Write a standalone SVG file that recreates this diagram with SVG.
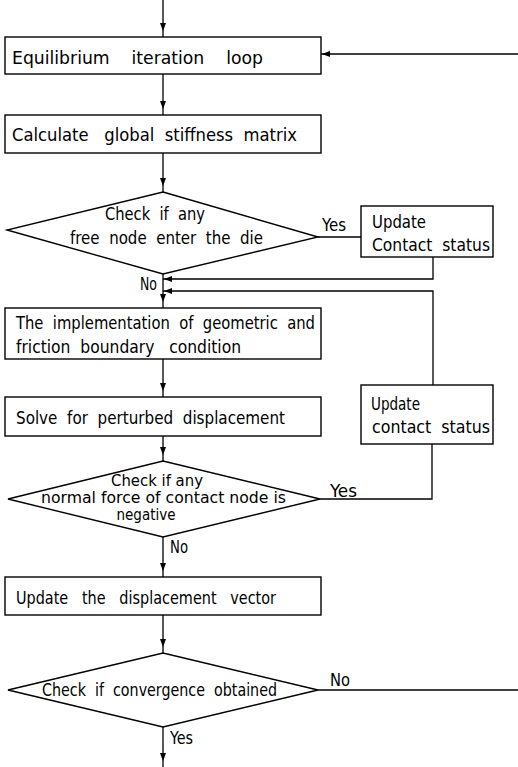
<svg xmlns="http://www.w3.org/2000/svg" width="518" height="767" viewBox="0 0 518 767">
<style>
.b{fill:#fff;stroke:#000;stroke-width:1.4}
.c{fill:none;stroke:#000;stroke-width:1.3}
text{font-family:"DejaVu Sans Condensed","DejaVu Sans","Liberation Sans",sans-serif;font-size:17px;fill:#000;white-space:pre}
.s{font-size:15px}
</style>
<defs>
<marker id="arr" markerUnits="userSpaceOnUse" markerWidth="16" markerHeight="8" refX="14" refY="3" orient="auto">
<path d="M0,0 L8,3 L0,6 z" fill="#000"/>
</marker>
<marker id="arrh" markerUnits="userSpaceOnUse" markerWidth="16" markerHeight="8" refX="9" refY="3" orient="auto">
<path d="M0,0 L8,3 L0,6 z" fill="#000"/>
</marker>
</defs>
<g id="connectors">
<path class="c" d="M163,0 V37" marker-end="url(#arr)"/>
<path class="c" d="M518,54 H321" marker-end="url(#arrh)"/>
<path class="c" d="M163,74 V115" marker-end="url(#arr)"/>
<path class="c" d="M163,153 V192" marker-end="url(#arr)"/>
<path class="c" d="M318,237 H361"/>
<path class="c" d="M433,257 V279 H163" marker-end="url(#arrh)"/>
<path class="c" d="M433,385 V291 H163" marker-end="url(#arrh)"/>
<path class="c" d="M163,274 V308" marker-end="url(#arr)"/>
<path class="c" d="M163,359 V397" marker-end="url(#arr)"/>
<path class="c" d="M163,436 V461" marker-end="url(#arr)"/>
<path class="c" d="M320,499 H432 V444"/>
<path class="c" d="M163,537 V577" marker-end="url(#arr)"/>
<path class="c" d="M163,615 V653" marker-end="url(#arr)"/>
<path class="c" d="M318,690 H518"/>
<path class="c" d="M163,727 V767" marker-end="url(#arr)"/>
<text x="322" y="231" textLength="24" lengthAdjust="spacingAndGlyphs">Yes</text>
<text x="140" y="290" textLength="17" lengthAdjust="spacingAndGlyphs">No</text>
<text x="330" y="497" textLength="27" lengthAdjust="spacingAndGlyphs">Yes</text>
<text x="170" y="553" textLength="18" lengthAdjust="spacingAndGlyphs">No</text>
<text x="330" y="686" textLength="20" lengthAdjust="spacingAndGlyphs">No</text>
<text x="170" y="744" textLength="23" lengthAdjust="spacingAndGlyphs">Yes</text>
</g>
<g id="n1">
<rect class="b" x="5" y="37" width="316" height="37"/>
<text x="12" y="64" textLength="251" lengthAdjust="spacingAndGlyphs">Equilibrium    iteration    loop</text>
</g>
<g id="n2">
<rect class="b" x="5" y="115" width="316" height="38"/>
<text x="12" y="141" textLength="285" lengthAdjust="spacingAndGlyphs">Calculate   global  stiffness  matrix</text>
</g>
<g id="d1">
<polygon class="b" points="163,192 318,237 163,274 7,230"/>
<text x="105" y="220" textLength="100" lengthAdjust="spacingAndGlyphs">Check  if  any</text>
<text x="70" y="244" textLength="193" lengthAdjust="spacingAndGlyphs">free  node  enter  the  die</text>
</g>
<g id="u1">
<rect class="b" x="361" y="206" width="132" height="51"/>
<text x="372" y="228" textLength="54" lengthAdjust="spacingAndGlyphs">Update</text>
<text x="372" y="251" textLength="118" lengthAdjust="spacingAndGlyphs">Contact  status</text>
</g>
<g id="n3">
<rect class="b" x="5" y="308" width="316" height="51"/>
<text x="16" y="329" textLength="299" lengthAdjust="spacingAndGlyphs">The  implementation  of  geometric  and</text>
<text x="16" y="353" textLength="225" lengthAdjust="spacingAndGlyphs">friction  boundary   condition</text>
</g>
<g id="n4">
<rect class="b" x="5" y="397" width="316" height="39"/>
<text x="16" y="424" textLength="269" lengthAdjust="spacingAndGlyphs">Solve  for  perturbed  displacement</text>
</g>
<g id="u2">
<rect class="b" x="361" y="385" width="132" height="59"/>
<text x="371" y="410" textLength="49" lengthAdjust="spacingAndGlyphs">Update</text>
<text x="372" y="433" textLength="118" lengthAdjust="spacingAndGlyphs">contact  status</text>
</g>
<g id="d2">
<polygon class="b" points="163,461 320,499 163,537 8,499"/>
<text class="s" x="111" y="486" textLength="92" lengthAdjust="spacingAndGlyphs">Check if any</text>
<text class="s" x="41" y="503" textLength="245" lengthAdjust="spacingAndGlyphs">normal force of contact node is</text>
<text class="s" x="146" y="520" text-anchor="middle">negative</text>
</g>
<g id="n5">
<rect class="b" x="5" y="577" width="316" height="38"/>
<text x="16" y="604" textLength="260" lengthAdjust="spacingAndGlyphs">Update   the   displacement   vector</text>
</g>
<g id="d3">
<polygon class="b" points="163,653 318,690 163,727 8,690"/>
<text x="42" y="696" textLength="235" lengthAdjust="spacingAndGlyphs">Check  if  convergence  obtained</text>
</g>
</svg>
